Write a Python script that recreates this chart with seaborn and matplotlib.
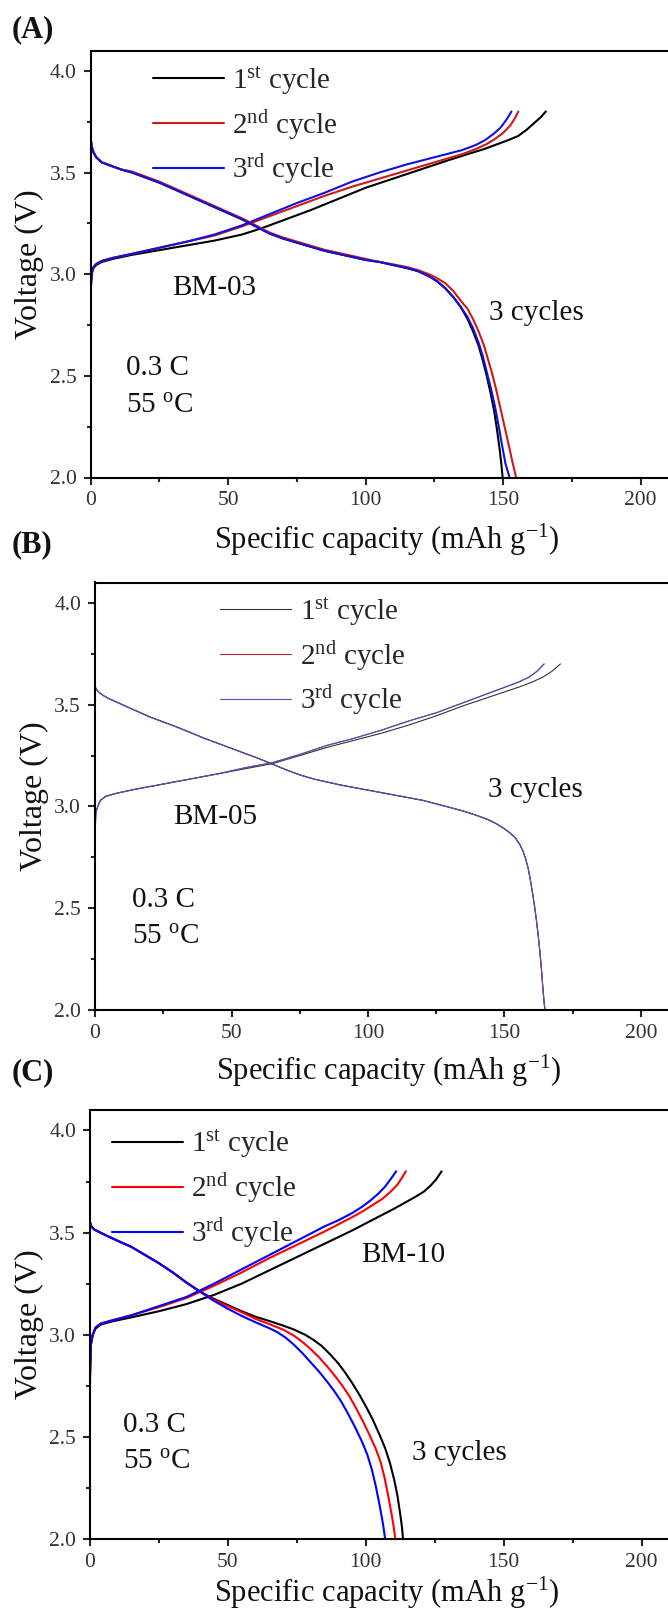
import numpy as np
import pandas as pd
import matplotlib
matplotlib.use("Agg")
import matplotlib.pyplot as plt
import seaborn as sns
from matplotlib.ticker import MultipleLocator

# ---- data (capacity mAh/g, voltage V) ----
# Panel A, BM-03
A_CHG_1 = [(0, 2.93), (0.2, 2.98), (0.5, 3.01), (1, 3.03), (2, 3.045), (4, 3.06), (8, 3.075),
           (15, 3.095), (30, 3.13), (45, 3.165), (55, 3.195), (62, 3.225), (70, 3.265),
           (80, 3.315), (90, 3.37), (100, 3.425), (110, 3.47), (120, 3.515), (130, 3.56),
           (137, 3.59), (143, 3.615), (148, 3.64), (152, 3.66), (155.5, 3.68), (158.5, 3.71),
           (161, 3.74), (163.5, 3.77), (165.5, 3.80)]
A_CHG_2 = [(0, 2.93), (0.5, 3.01), (1, 3.035), (2, 3.05), (4, 3.065), (8, 3.08), (15, 3.10),
           (25, 3.13), (35, 3.16), (45, 3.19), (55, 3.235), (65, 3.285), (75, 3.335),
           (85, 3.385), (95, 3.43), (105, 3.47), (115, 3.51), (125, 3.55), (135, 3.59),
           (140, 3.615), (144, 3.64), (147, 3.665), (150, 3.695), (152.5, 3.73),
           (154.2, 3.765), (155.5, 3.80)]
A_CHG_3 = [(0, 2.93), (0.5, 3.01), (1, 3.035), (2, 3.05), (4, 3.065), (8, 3.08), (15, 3.10),
           (25, 3.13), (35, 3.16), (45, 3.195), (55, 3.24), (65, 3.295), (75, 3.35),
           (85, 3.40), (95, 3.455), (105, 3.50), (115, 3.54), (125, 3.575), (135, 3.61),
           (140, 3.635), (143.5, 3.66), (146.5, 3.69), (149, 3.72), (151.2, 3.76), (153, 3.80)]
A_DIS_1 = [(0, 3.67), (0.3, 3.63), (1, 3.60), (2, 3.575), (4, 3.55), (8, 3.53), (11, 3.515),
           (15, 3.50), (20, 3.475), (25, 3.45), (30, 3.42), (35, 3.39), (40, 3.36), (45, 3.33),
           (50, 3.30), (55, 3.27), (60, 3.235), (65, 3.20), (70, 3.175), (75, 3.155),
           (80, 3.135), (85, 3.115), (90, 3.10), (95, 3.085), (100, 3.07), (105, 3.06),
           (110, 3.045), (115, 3.03), (119, 3.015), (123, 2.99), (126, 2.965), (129, 2.93),
           (132, 2.885), (134.5, 2.84), (137, 2.78), (139, 2.72), (141, 2.65), (142.5, 2.58),
           (144, 2.50), (145.5, 2.41), (146.8, 2.32), (147.8, 2.23), (148.7, 2.14),
           (149.3, 2.07), (149.8, 2.0)]
A_DIS_2 = [(0, 3.67), (0.3, 3.63), (1, 3.60), (2, 3.575), (4, 3.55), (8, 3.53), (11, 3.515),
           (15, 3.505), (20, 3.48), (25, 3.455), (30, 3.425), (35, 3.395), (40, 3.365),
           (45, 3.335), (50, 3.305), (55, 3.275), (60, 3.24), (65, 3.205), (70, 3.18),
           (75, 3.16), (80, 3.14), (85, 3.12), (90, 3.105), (95, 3.09), (100, 3.075),
           (105, 3.06), (110, 3.048), (115, 3.035), (119, 3.02), (123, 3.0), (126, 2.98),
           (129, 2.955), (132, 2.915), (134.5, 2.87), (137, 2.83), (139, 2.78), (141, 2.72),
           (143, 2.65), (144.5, 2.58), (146, 2.51), (147.5, 2.43), (149, 2.34), (150.5, 2.25),
           (152, 2.16), (153.3, 2.08), (154.7, 2.0)]
A_DIS_3 = [(0, 3.67), (0.3, 3.63), (1, 3.60), (2, 3.575), (4, 3.55), (8, 3.53), (11, 3.515),
           (15, 3.50), (20, 3.475), (25, 3.45), (30, 3.42), (35, 3.39), (40, 3.36), (45, 3.33),
           (50, 3.30), (55, 3.27), (60, 3.235), (65, 3.20), (70, 3.175), (75, 3.155),
           (80, 3.135), (85, 3.115), (90, 3.10), (95, 3.085), (100, 3.07), (105, 3.06),
           (110, 3.045), (115, 3.03), (119, 3.015), (123, 2.99), (126, 2.965), (129, 2.93),
           (132, 2.885), (134.5, 2.84), (137, 2.79), (139, 2.735), (141, 2.665), (142.5, 2.60),
           (144, 2.52), (145.5, 2.44), (147, 2.35), (148.4, 2.25), (149.7, 2.15),
           (150.8, 2.07), (152.3, 2.0)]

# Panel B, BM-05
B_CHG_1 = [(0, 2.85), (0.3, 2.97), (1, 3.0), (2, 3.03), (4, 3.05), (8, 3.065), (15, 3.085),
           (25, 3.11), (35, 3.135), (45, 3.16), (55, 3.185), (65, 3.21), (75, 3.25),
           (85, 3.29), (95, 3.325), (105, 3.36), (115, 3.40), (125, 3.445), (135, 3.495),
           (145, 3.54), (155, 3.585), (160, 3.61), (164, 3.635), (167.5, 3.665), (170.5, 3.70)]
B_CHG_2 = [(0, 2.85), (0.3, 2.97), (1, 3.0), (2, 3.03), (4, 3.05), (8, 3.065), (15, 3.085),
           (25, 3.11), (35, 3.135), (45, 3.16), (55, 3.19), (65, 3.215), (75, 3.255),
           (85, 3.30), (95, 3.335), (105, 3.375), (115, 3.42), (125, 3.46), (135, 3.51),
           (145, 3.56), (150, 3.585), (155, 3.61), (159, 3.635), (162, 3.665), (164.5, 3.70)]
B_CHG_3 = [(0, 2.85), (0.3, 2.97), (1, 3.0), (2, 3.03), (4, 3.05), (8, 3.065), (15, 3.085),
           (25, 3.11), (35, 3.135), (45, 3.16), (55, 3.19), (65, 3.215), (75, 3.255),
           (85, 3.30), (95, 3.335), (105, 3.375), (115, 3.42), (125, 3.46), (135, 3.51),
           (145, 3.56), (150, 3.585), (155, 3.61), (159, 3.635), (162, 3.665), (164.5, 3.70)]
B_DIS = [(0, 3.59), (0.5, 3.575), (1.5, 3.56), (3, 3.545), (5, 3.53), (10, 3.50), (15, 3.47),
         (20, 3.44), (30, 3.39), (40, 3.335), (50, 3.285), (60, 3.235), (70, 3.18), (75, 3.155),
         (80, 3.135), (85, 3.12), (90, 3.105), (100, 3.08), (110, 3.055), (120, 3.03),
         (130, 2.995), (135, 2.977), (140, 2.955), (144, 2.935), (147, 2.915), (150, 2.89),
         (152, 2.87), (154, 2.845), (155.5, 2.815), (156.8, 2.78), (157.8, 2.74), (158.6, 2.70),
         (159.4, 2.645), (160.2, 2.58), (161, 2.51), (161.7, 2.44), (162.4, 2.36), (163, 2.28),
         (163.6, 2.19), (164.1, 2.10), (164.5, 2.04), (164.8, 2.0)]

# Panel C, BM-10
C_CHG_1 = [(0, 2.82), (0.3, 2.95), (1, 3.0), (2, 3.03), (4, 3.05), (8, 3.065), (15, 3.085),
           (25, 3.115), (35, 3.15), (45, 3.195), (55, 3.25), (65, 3.315), (75, 3.38),
           (85, 3.445), (95, 3.51), (100, 3.545), (105, 3.58), (110, 3.615), (114, 3.645),
           (118, 3.675), (121, 3.70), (123.5, 3.73), (125.5, 3.76), (127.5, 3.80)]
C_CHG_2 = [(0, 2.75), (0.3, 2.95), (1, 3.0), (2, 3.035), (4, 3.055), (8, 3.07), (15, 3.095),
           (25, 3.135), (35, 3.18), (45, 3.24), (55, 3.305), (65, 3.375), (75, 3.44),
           (85, 3.505), (90, 3.54), (95, 3.575), (99, 3.605), (102.5, 3.635), (106, 3.665),
           (109, 3.70), (111.5, 3.735), (113.2, 3.77), (114.5, 3.80)]
C_CHG_3 = [(0, 2.80), (0.3, 2.95), (1, 3.0), (2, 3.035), (4, 3.055), (8, 3.07), (15, 3.095),
           (25, 3.14), (35, 3.185), (45, 3.25), (55, 3.32), (65, 3.39), (75, 3.46),
           (85, 3.53), (90, 3.56), (95, 3.595), (98.5, 3.625), (101.5, 3.655), (104.5, 3.69),
           (107, 3.725), (109.2, 3.765), (111, 3.80)]
C_DIS_1 = [(0, 3.55), (0.5, 3.53), (1.5, 3.515), (3, 3.505), (6, 3.485), (10, 3.46),
           (12.5, 3.445), (15, 3.43), (17.5, 3.41), (20, 3.39), (22.5, 3.37), (25, 3.35),
           (30, 3.305), (35, 3.255), (40, 3.21), (45, 3.175), (50, 3.145), (55, 3.115),
           (60, 3.088), (65, 3.067), (70, 3.045), (74, 3.025), (78, 3.0), (81, 2.975),
           (84, 2.945), (87, 2.905), (90, 2.86), (92.5, 2.815), (95, 2.765), (97.5, 2.71),
           (100, 2.65), (102.5, 2.585), (105, 2.51), (107, 2.445), (108.8, 2.37), (110.3, 2.29),
           (111.5, 2.21), (112.5, 2.12), (113.1, 2.06), (113.5, 2.0)]
C_DIS_2 = [(0, 3.55), (0.5, 3.53), (1.5, 3.515), (3, 3.505), (6, 3.485), (10, 3.46),
           (12.5, 3.445), (15, 3.43), (17.5, 3.41), (20, 3.39), (22.5, 3.37), (25, 3.35),
           (30, 3.305), (35, 3.255), (40, 3.21), (45, 3.17), (50, 3.14), (55, 3.11),
           (60, 3.078), (65, 3.052), (70, 3.025), (74, 2.995), (77, 2.965), (80, 2.93),
           (83, 2.89), (86, 2.845), (89, 2.795), (91.5, 2.75), (94, 2.70), (96.5, 2.64),
           (99, 2.575), (101.5, 2.505), (103.5, 2.445), (105.3, 2.38), (106.8, 2.30),
           (108, 2.22), (109.1, 2.14), (110, 2.07), (110.7, 2.0)]
C_DIS_3 = [(0, 3.55), (0.5, 3.53), (1.5, 3.515), (3, 3.505), (6, 3.485), (10, 3.46),
           (12.5, 3.445), (15, 3.43), (17.5, 3.41), (20, 3.39), (22.5, 3.37), (25, 3.35),
           (30, 3.305), (35, 3.255), (40, 3.21), (45, 3.165), (50, 3.127), (55, 3.092),
           (60, 3.061), (65, 3.032), (68, 3.012), (71, 2.985), (74, 2.95), (77, 2.91),
           (80, 2.865), (83, 2.82), (86, 2.77), (88.5, 2.725), (91, 2.675), (93.5, 2.615),
           (96, 2.55), (98.5, 2.48), (100.5, 2.415), (102.2, 2.34), (103.6, 2.26),
           (104.8, 2.18), (105.9, 2.10), (106.5, 2.05), (107, 2.0)]

CYCLE_LABELS = [r"1$^{\mathrm{st}}$ cycle", r"2$^{\mathrm{nd}}$ cycle", r"3$^{\mathrm{rd}}$ cycle"]
SAMPLES = ["BM-03", "BM-05", "BM-10"]
PANEL_TAGS = ["(A)", "(B)", "(C)"]
X_TICKS = [0, 50, 100, 150, 200]
Y_TICKS = [2.0, 2.5, 3.0, 3.5, 4.0]

sns.set_style("ticks")
plt.rcParams["font.family"] = ["Liberation Serif", "DejaVu Serif"]
plt.rcParams["mathtext.fontset"] = "custom"
plt.rcParams["mathtext.rm"] = "Liberation Serif"
plt.rcParams["mathtext.it"] = "Liberation Serif:italic"
plt.rcParams["mathtext.bf"] = "Liberation Serif:bold"

W, H = 668, 1614
fig = plt.figure(figsize=(W / 100, H / 100), dpi=100)


def to_df(pts):
    return pd.DataFrame(pts, columns=["cap", "v"])


def draw(ax, charges, discharges, colors, lw):
    for pts, col, lab in zip(charges, colors, CYCLE_LABELS):
        sns.lineplot(data=to_df(pts), x="cap", y="v", sort=False, estimator=None,
                     color=col, lw=lw, ax=ax, label=lab)
    for pts, col in zip(discharges, colors):
        sns.lineplot(data=to_df(pts), x="cap", y="v", sort=False, estimator=None,
                     color=col, lw=lw, ax=ax, legend=False)


def style(ax, leg_xy, notes, xpad):
    ax.set_xlim(0, 215)
    ax.set_ylim(2.0, 4.1)
    ax.set_xticks(X_TICKS)
    ax.set_yticks(Y_TICKS)
    ax.xaxis.set_minor_locator(MultipleLocator(25))
    ax.yaxis.set_minor_locator(MultipleLocator(0.25))
    ax.tick_params(which="major", direction="out", length=5, width=1.5, labelsize=15.5,
                   labelcolor="#333333", pad=5)
    ax.tick_params(which="minor", direction="out", length=3, width=1.5)
    for s in ["left", "bottom", "top"]:
        ax.spines[s].set_linewidth(1.5)
        ax.spines[s].set_color("black")
    ax.spines["right"].set_visible(False)
    ax.set_xlabel(r"Specific capacity (mAh g$^{\mathrm{-1}}$)", fontsize=22, labelpad=xpad,
                  color="#111111")
    ax.set_ylabel("Voltage (V)", fontsize=23, labelpad=4, color="#111111")
    ax.legend(loc="upper left", bbox_to_anchor=leg_xy, bbox_transform=ax.transData,
              frameon=False, fontsize=21, handlelength=2.45, handletextpad=0.28,
              labelspacing=0.38, borderpad=0, borderaxespad=0)
    for x, y, t in notes:
        ax.text(x, y, t, fontsize=21, ha="left", va="center", color="#111111")


def add_axes(left_px, top_px, bottom_px, px_per_unit):
    return fig.add_axes([left_px / W, 1 - bottom_px / H, 215 * px_per_unit / W,
                         (bottom_px - top_px) / H])


# Panel A
axA = add_axes(90.7, 50.5, 477.5, 2.75)
draw(axA, [A_CHG_1, A_CHG_2, A_CHG_3], [A_DIS_1, A_DIS_2, A_DIS_3],
     ["black", "#d01818", "#1010e0"], 1.5)
style(axA, (22.5, 4.03), [(29.7, 2.93, SAMPLES[0]), (145, 2.81, "3 cycles"),
                          (13, 2.54, "0.3 C"), (13, 2.355, r"55 $^{\mathrm{o}}$C")], 8)

# Panel B
axB = add_axes(95, 582.5, 1010, 2.73)
draw(axB, [B_CHG_1, B_CHG_2, B_CHG_3], [B_DIS, B_DIS, B_DIS],
     ["#333333", "#b02828", "#5050c8"], 0.8)
style(axB, (45.8, 4.035), [(28.5, 2.95, SAMPLES[1]), (143.9, 3.08, "3 cycles"),
                           (13.7, 2.54, "0.3 C"), (13.7, 2.36, r"55 $^{\mathrm{o}}$C")], 7)

# Panel C
axC = add_axes(90, 1110, 1539, 2.758)
draw(axC, [C_CHG_1, C_CHG_2, C_CHG_3], [C_DIS_1, C_DIS_2, C_DIS_3],
     ["black", "#ff0000", "#0000ff"], 1.5)
style(axC, (7.9, 4.01), [(98.3, 3.39, SAMPLES[2]), (116.9, 2.42, "3 cycles"),
                         (11.9, 2.56, "0.3 C"), (11.9, 2.38, r"55 $^{\mathrm{o}}$C")], 2)

for tag, yc in zip(PANEL_TAGS, [30, 545, 1073]):
    fig.text(12 / W, 1 - yc / H, tag, fontsize=22, fontweight="bold", ha="left",
             va="center", color="#111111")

fig.savefig("out.png", dpi=100)
